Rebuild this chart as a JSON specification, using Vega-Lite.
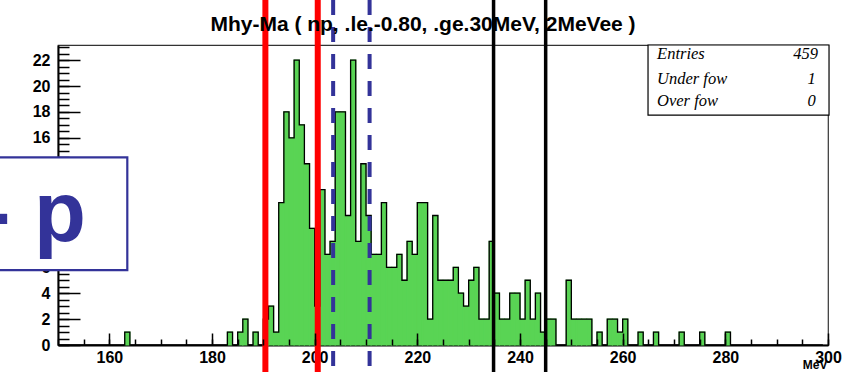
{
  "$schema": "https://vega.github.io/schema/vega-lite/v6.json",
  "width": 770,
  "height": 300,
  "autosize": "none",
  "padding": {"left": 58, "top": 45, "right": 14, "bottom": 27},
  "background": "white",
  "config": {"view": {"stroke": "#333333", "strokeWidth": 1.2}},
  "title": {"text": "Mhy-Ma ( np, .le.-0.80, .ge.30MeV, 2MeVee )", "font": "Liberation Sans", "fontSize": 21, "fontWeight": "bold", "color": "black", "anchor": "middle", "frame": "group", "dx": -20, "baseline": "alphabetic", "offset": -55},
  "datasets": {
    "hist": [
      {"lo":150,"hi":151,"n":0},{"lo":151,"hi":152,"n":0},{"lo":152,"hi":153,"n":0},{"lo":153,"hi":154,"n":0},{"lo":154,"hi":155,"n":0},
      {"lo":155,"hi":156,"n":0},{"lo":156,"hi":157,"n":0},{"lo":157,"hi":158,"n":0},{"lo":158,"hi":159,"n":0},{"lo":159,"hi":160,"n":0},
      {"lo":160,"hi":161,"n":0},{"lo":161,"hi":162,"n":0},{"lo":162,"hi":163,"n":0},{"lo":163,"hi":164,"n":1},{"lo":164,"hi":165,"n":0},
      {"lo":165,"hi":166,"n":0},{"lo":166,"hi":167,"n":0},{"lo":167,"hi":168,"n":0},{"lo":168,"hi":169,"n":0},{"lo":169,"hi":170,"n":0},
      {"lo":170,"hi":171,"n":0},{"lo":171,"hi":172,"n":0},{"lo":172,"hi":173,"n":0},{"lo":173,"hi":174,"n":0},{"lo":174,"hi":175,"n":0},
      {"lo":175,"hi":176,"n":0},{"lo":176,"hi":177,"n":0},{"lo":177,"hi":178,"n":0},{"lo":178,"hi":179,"n":0},{"lo":179,"hi":180,"n":0},
      {"lo":180,"hi":181,"n":0},{"lo":181,"hi":182,"n":0},{"lo":182,"hi":183,"n":0},{"lo":183,"hi":184,"n":1},{"lo":184,"hi":185,"n":0},
      {"lo":185,"hi":186,"n":1},{"lo":186,"hi":187,"n":2},{"lo":187,"hi":188,"n":0},{"lo":188,"hi":189,"n":1},{"lo":189,"hi":190,"n":0},
      {"lo":190,"hi":191,"n":2},{"lo":191,"hi":192,"n":3},{"lo":192,"hi":193,"n":1},{"lo":193,"hi":194,"n":11},{"lo":194,"hi":195,"n":18},
      {"lo":195,"hi":196,"n":16},{"lo":196,"hi":197,"n":22},{"lo":197,"hi":198,"n":17},{"lo":198,"hi":199,"n":14},{"lo":199,"hi":200,"n":9},
      {"lo":200,"hi":201,"n":3},{"lo":201,"hi":202,"n":12},{"lo":202,"hi":203,"n":7},{"lo":203,"hi":204,"n":8},{"lo":204,"hi":205,"n":18},
      {"lo":205,"hi":206,"n":18},{"lo":206,"hi":207,"n":10},{"lo":207,"hi":208,"n":22},{"lo":208,"hi":209,"n":8},{"lo":209,"hi":210,"n":14},
      {"lo":210,"hi":211,"n":10},{"lo":211,"hi":212,"n":7},{"lo":212,"hi":213,"n":7},{"lo":213,"hi":214,"n":11},{"lo":214,"hi":215,"n":6},
      {"lo":215,"hi":216,"n":6},{"lo":216,"hi":217,"n":7},{"lo":217,"hi":218,"n":5},{"lo":218,"hi":219,"n":8},{"lo":219,"hi":220,"n":7},
      {"lo":220,"hi":221,"n":11},{"lo":221,"hi":222,"n":11},{"lo":222,"hi":223,"n":2},{"lo":223,"hi":224,"n":10},{"lo":224,"hi":225,"n":5},
      {"lo":225,"hi":226,"n":5},{"lo":226,"hi":227,"n":5},{"lo":227,"hi":228,"n":6},{"lo":228,"hi":229,"n":4},{"lo":229,"hi":230,"n":3},
      {"lo":230,"hi":231,"n":5},{"lo":231,"hi":232,"n":6},{"lo":232,"hi":233,"n":2},{"lo":233,"hi":234,"n":2},{"lo":234,"hi":235,"n":8},
      {"lo":235,"hi":236,"n":4},{"lo":236,"hi":237,"n":2},{"lo":237,"hi":238,"n":2},{"lo":238,"hi":239,"n":4},{"lo":239,"hi":240,"n":4},
      {"lo":240,"hi":241,"n":2},{"lo":241,"hi":242,"n":5},{"lo":242,"hi":243,"n":2},{"lo":243,"hi":244,"n":4},{"lo":244,"hi":245,"n":1},
      {"lo":245,"hi":246,"n":2},{"lo":246,"hi":247,"n":2},{"lo":247,"hi":248,"n":0},{"lo":248,"hi":249,"n":0},{"lo":249,"hi":250,"n":5},
      {"lo":250,"hi":251,"n":2},{"lo":251,"hi":252,"n":2},{"lo":252,"hi":253,"n":2},{"lo":253,"hi":254,"n":2},{"lo":254,"hi":255,"n":0},
      {"lo":255,"hi":256,"n":1},{"lo":256,"hi":257,"n":0},{"lo":257,"hi":258,"n":2},{"lo":258,"hi":259,"n":2},{"lo":259,"hi":260,"n":1},
      {"lo":260,"hi":261,"n":2},{"lo":261,"hi":262,"n":0},{"lo":262,"hi":263,"n":0},{"lo":263,"hi":264,"n":1},{"lo":264,"hi":265,"n":0},
      {"lo":265,"hi":266,"n":0},{"lo":266,"hi":267,"n":1},{"lo":267,"hi":268,"n":0},{"lo":268,"hi":269,"n":0},{"lo":269,"hi":270,"n":0},
      {"lo":270,"hi":271,"n":0},{"lo":271,"hi":272,"n":1},{"lo":272,"hi":273,"n":0},{"lo":273,"hi":274,"n":0},{"lo":274,"hi":275,"n":0},
      {"lo":275,"hi":276,"n":1},{"lo":276,"hi":277,"n":0},{"lo":277,"hi":278,"n":0},{"lo":278,"hi":279,"n":0},{"lo":279,"hi":280,"n":0},
      {"lo":280,"hi":281,"n":1},{"lo":281,"hi":282,"n":0},{"lo":282,"hi":283,"n":0},{"lo":283,"hi":284,"n":0},{"lo":284,"hi":285,"n":0},
      {"lo":285,"hi":286,"n":0},{"lo":286,"hi":287,"n":0},{"lo":287,"hi":288,"n":0},{"lo":288,"hi":289,"n":0},{"lo":289,"hi":290,"n":0},
      {"lo":290,"hi":291,"n":0},{"lo":291,"hi":292,"n":0},{"lo":292,"hi":293,"n":0},{"lo":293,"hi":294,"n":0},{"lo":294,"hi":295,"n":0},
      {"lo":295,"hi":296,"n":0},{"lo":296,"hi":297,"n":0},{"lo":297,"hi":298,"n":0},{"lo":298,"hi":299,"n":0},{"lo":299,"hi":300,"n":0}
    ]
  },
  "resolve": {"axis": {"x": "independent", "y": "independent"}},
  "layer": [
    {
      "data": {"name": "hist"},
      "transform": [{"filter": "datum.n > 0"}],
      "mark": {"type": "rect", "fill": "#59d454", "stroke": "#59d454", "strokeWidth": 1.2},
      "encoding": {
        "x": {"field": "lo", "type": "quantitative", "scale": {"domain": [150, 300], "nice": false, "zero": false},
              "axis": {"orient": "bottom", "values": [160, 180, 200, 220, 240, 260, 280, 300], "ticks": false, "domain": true, "domainColor": "black", "domainWidth": 2, "grid": false,
                       "labelFont": "Liberation Sans", "labelFontWeight": "bold", "labelFontSize": 16, "labelColor": "black", "labelPadding": 4, "labelFlush": false, "labelOverlap": false,
                       "title": "MeV", "titleFont": "Liberation Sans", "titleFontWeight": "bold", "titleFontSize": 12, "titleColor": "black", "titleAnchor": "end", "titleAlign": "right", "titleX": 769, "titleY": 23, "titleBaseline": "alphabetic", "zindex": 0}},
        "x2": {"field": "hi"},
        "y": {"field": "n", "type": "quantitative", "scale": {"domain": [0, 23.17], "nice": false, "zero": false},
              "axis": {"orient": "left", "values": [0, 2, 4, 6, 8, 10, 12, 14, 16, 18, 20, 22], "ticks": false, "domain": true, "domainColor": "black", "domainWidth": 2, "grid": false,
                       "labelFont": "Liberation Sans", "labelFontWeight": "bold", "labelFontSize": 16, "labelColor": "black", "labelPadding": 8, "labelFlush": false, "labelOverlap": false, "title": null, "zindex": 0}},
        "y2": {"datum": 0}
      }
    },
    {
      "data": {"name": "hist"},
      "mark": {"type": "line", "interpolate": "step-after", "color": "black", "strokeWidth": 1.3},
      "encoding": {
        "x": {"field": "lo", "type": "quantitative", "scale": {"domain": [150, 300], "nice": false, "zero": false},
              "axis": {"orient": "bottom", "values": [160, 180, 200, 220, 240, 260, 280, 300], "labels": false, "domain": false, "ticks": true, "tickSize": -12, "tickColor": "black", "tickWidth": 1.5, "grid": false, "title": null, "zindex": 1}},
        "y": {"field": "n", "type": "quantitative", "scale": {"domain": [0, 23.17], "nice": false, "zero": false},
              "axis": {"orient": "left", "values": [0, 2, 4, 6, 8, 10, 12, 14, 16, 18, 20, 22], "labels": false, "domain": false, "ticks": true, "tickSize": -22, "tickColor": "black", "tickWidth": 1.5, "grid": false, "title": null, "zindex": 0}}
      }
    },
    {
      "data": {"values": [{"mev": 190.4}, {"mev": 200.6}]},
      "mark": {"type": "rule", "color": "#ff0000", "strokeWidth": 6},
      "encoding": {
        "x": {"field": "mev", "type": "quantitative", "scale": {"domain": [150, 300], "nice": false, "zero": false},
              "axis": {"orient": "bottom", "values": [150, 155, 160, 165, 170, 175, 180, 185, 190, 195, 200, 205, 210, 215, 220, 225, 230, 235, 240, 245, 250, 255, 260, 265, 270, 275, 280, 285, 290, 295, 300], "labels": false, "domain": false, "ticks": true, "tickSize": -6, "tickColor": "black", "tickWidth": 1.5, "grid": false, "title": null, "zindex": 1}},
        "y": {"datum": -3, "type": "quantitative", "scale": {"domain": [0, 23.17], "nice": false, "zero": false},
              "axis": {"orient": "left", "values": [0, 0.5, 1, 1.5, 2, 2.5, 3, 3.5, 4, 4.5, 5, 5.5, 6, 6.5, 7, 7.5, 8, 8.5, 9, 9.5, 10, 10.5, 11, 11.5, 12, 12.5, 13, 13.5, 14, 14.5, 15, 15.5, 16, 16.5, 17, 17.5, 18, 18.5, 19, 19.5, 20, 20.5, 21, 21.5, 22, 22.5, 23], "labels": false, "domain": false, "ticks": true, "tickSize": -11, "tickColor": "black", "tickWidth": 1.5, "grid": false, "title": null, "zindex": 0}},
        "y2": {"datum": 26.64}
      }
    },
    {
      "data": {"values": [{"mev": 203.6}, {"mev": 210.7}]},
      "mark": {"type": "rule", "color": "#333399", "strokeWidth": 4, "strokeDash": [15, 12]},
      "encoding": {
        "x": {"field": "mev", "type": "quantitative", "axis": null},
        "y": {"datum": 26.64, "type": "quantitative", "axis": null},
        "y2": {"datum": -3}
      }
    },
    {
      "data": {"values": [{"mev": 234.85}, {"mev": 245.0}]},
      "mark": {"type": "rule", "color": "black", "strokeWidth": 3.5},
      "encoding": {
        "x": {"field": "mev", "type": "quantitative", "axis": null},
        "y": {"datum": -3, "type": "quantitative", "axis": null},
        "y2": {"datum": 26.64}
      }
    },
    {
      "data": {"values": [{"label": "- p"}]},
      "mark": {"type": "rect", "fill": "white", "stroke": "#333399", "strokeWidth": 2.2},
      "encoding": {
        "x": {"datum": 137, "type": "quantitative", "axis": null},
        "x2": {"datum": 163.5},
        "y": {"datum": 14.49, "type": "quantitative", "axis": null},
        "y2": {"datum": 5.79}
      }
    },
    {
      "data": {"values": [{"label": "- p"}]},
      "mark": {"type": "text", "font": "Liberation Sans", "fontWeight": "bold", "fontSize": 85, "color": "#333399", "align": "right", "baseline": "alphabetic"},
      "encoding": {
        "x": {"datum": 155.45, "type": "quantitative", "axis": null},
        "y": {"datum": 8.03, "type": "quantitative", "axis": null},
        "text": {"field": "label"}
      }
    },
    {
      "data": {"values": [{"box": "stats"}]},
      "mark": {"type": "rect", "fill": "white", "stroke": "black", "strokeWidth": 1.2},
      "encoding": {
        "x": {"datum": 264.94, "type": "quantitative", "axis": null},
        "x2": {"datum": 300.2},
        "y": {"datum": 23.17, "type": "quantitative", "axis": null},
        "y2": {"datum": 17.76}
      }
    },
    {
      "data": {"values": [{"stat": "Entries", "value": 459}]},
      "mark": {"type": "text", "font": "Liberation Serif", "fontStyle": "italic", "fontSize": 16.5, "color": "black", "align": "left", "baseline": "alphabetic"},
      "encoding": {"x": {"datum": 266.7, "type": "quantitative", "axis": null}, "y": {"datum": 22.06, "type": "quantitative", "axis": null}, "text": {"field": "stat"}}
    },
    {
      "data": {"values": [{"stat": "Entries", "value": 459}]},
      "mark": {"type": "text", "font": "Liberation Serif", "fontStyle": "italic", "fontSize": 16.5, "color": "black", "align": "right", "baseline": "alphabetic"},
      "encoding": {"x": {"datum": 298.05, "type": "quantitative", "axis": null}, "y": {"datum": 22.06, "type": "quantitative", "axis": null}, "text": {"field": "value"}}
    },
    {
      "data": {"values": [{"stat": "Under fow", "value": 1}]},
      "mark": {"type": "text", "font": "Liberation Serif", "fontStyle": "italic", "fontSize": 16.5, "color": "black", "align": "left", "baseline": "alphabetic"},
      "encoding": {"x": {"datum": 266.7, "type": "quantitative", "axis": null}, "y": {"datum": 20.13, "type": "quantitative", "axis": null}, "text": {"field": "stat"}}
    },
    {
      "data": {"values": [{"stat": "Under fow", "value": 1}]},
      "mark": {"type": "text", "font": "Liberation Serif", "fontStyle": "italic", "fontSize": 16.5, "color": "black", "align": "right", "baseline": "alphabetic"},
      "encoding": {"x": {"datum": 297.6, "type": "quantitative", "axis": null}, "y": {"datum": 20.13, "type": "quantitative", "axis": null}, "text": {"field": "value"}}
    },
    {
      "data": {"values": [{"stat": "Over fow", "value": 0}]},
      "mark": {"type": "text", "font": "Liberation Serif", "fontStyle": "italic", "fontSize": 16.5, "color": "black", "align": "left", "baseline": "alphabetic"},
      "encoding": {"x": {"datum": 266.7, "type": "quantitative", "axis": null}, "y": {"datum": 18.46, "type": "quantitative", "axis": null}, "text": {"field": "stat"}}
    },
    {
      "data": {"values": [{"stat": "Over fow", "value": 0}]},
      "mark": {"type": "text", "font": "Liberation Serif", "fontStyle": "italic", "fontSize": 16.5, "color": "black", "align": "right", "baseline": "alphabetic"},
      "encoding": {"x": {"datum": 297.6, "type": "quantitative", "axis": null}, "y": {"datum": 18.46, "type": "quantitative", "axis": null}, "text": {"field": "value"}}
    }
  ]
}
